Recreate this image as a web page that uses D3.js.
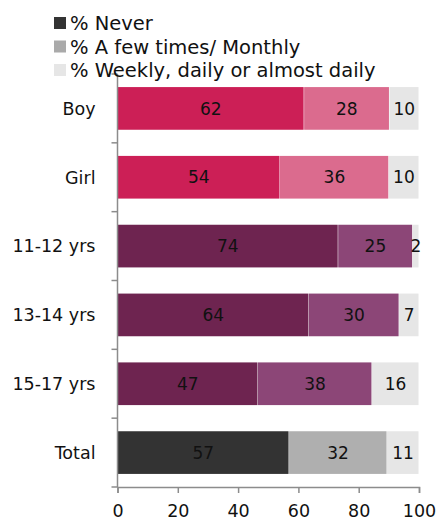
<!DOCTYPE html>
<style>
body { margin: 0; background: #fff; }
svg { font-family: "DejaVu Sans", sans-serif; }
</style>
<script src="https://d3js.org/d3.v7.min.js"></script>
<svg width="438" height="523"></svg>
<script>
var categories = ["Boy", "Girl", "11-12 yrs", "13-14 yrs", "15-17 yrs", "Total"];
var series = ["% Never", "% A few times/ Monthly", "% Weekly, daily or almost daily"];

// bar lengths and the printed labels
var never   = [61.9, 53.9, 73.2, 63.5, 46.6, 56.9];
var monthly = [28.3, 36.1, 24.7, 29.9, 37.8, 32.5];
var weekly  = [9.8, 10.0, 2.1, 6.6, 15.6, 10.6];
var neverLabels   = [62, 54, 74, 64, 47, 57];
var monthlyLabels = [28, 36, 25, 30, 38, 32];
var weeklyLabels  = [10, 10, 2, 7, 16, 11];
var xTicks = [0, 20, 40, 60, 80, 100];

var palette = {
  "Boy":       ["#cc1f56", "#db6b8e", "#e6e6e6"],
  "Girl":      ["#cc1f56", "#db6b8e", "#e6e6e6"],
  "11-12 yrs": ["#6e2450", "#8c4677", "#e6e6e6"],
  "13-14 yrs": ["#6e2450", "#8c4677", "#e6e6e6"],
  "15-17 yrs": ["#6e2450", "#8c4677", "#e6e6e6"],
  "Total":     ["#333333", "#afafaf", "#e6e6e6"]
};
var legendColors = ["#333333", "#aaaaaa", "#e6e6e6"];

var svg = d3.select("svg"),
    margin = {top: 74, right: 19, bottom: 36, left: 117.5},
    width = +svg.attr("width") - margin.left - margin.right,
    height = +svg.attr("height") - margin.top - margin.bottom;

var x = d3.scaleLinear().domain([0, 100]).range([0, width]);
var y = d3.scaleBand().domain(categories).range([0, height]).paddingInner(0.38).paddingOuter(0.19);

var rows = categories.map(function(c, i) {
  return {cat: c, values: [never[i], monthly[i], weekly[i]],
          labels: [neverLabels[i], monthlyLabels[i], weeklyLabels[i]]};
});

var g = svg.append("g").attr("transform", "translate(" + margin.left + "," + margin.top + ")");

var row = g.selectAll(".row")
  .data(rows)
  .enter().append("g")
    .attr("transform", function(d) { return "translate(0," + y(d.cat) + ")"; });

var seg = row.selectAll(".seg")
  .data(function(d) {
    var acc = 0;
    return d.values.map(function(v, k) {
      var s = {x0: acc, x1: acc + v, label: d.labels[k], color: palette[d.cat][k]};
      acc += v;
      return s;
    });
  })
  .enter().append("g");

seg.append("rect")
    .attr("x", function(d) { return x(d.x0); })
    .attr("width", function(d) { return x(d.x1) - x(d.x0) - 0.5; })
    .attr("height", y.bandwidth())
    .attr("fill", function(d) { return d.color; });

seg.append("text")
    .attr("x", function(d) { return (x(d.x0) + x(d.x1)) / 2; })
    .attr("y", y.bandwidth() / 2)
    .attr("dy", "0.36em")
    .attr("text-anchor", "middle")
    .style("font-size", "17px")
    .attr("fill", "#111")
    .text(function(d) { return d.label; });

// category axis
var axisColor = "#8c8c8c";
g.append("line")
    .attr("x1", 0).attr("x2", 0).attr("y1", 0).attr("y2", height)
    .attr("stroke", axisColor).attr("stroke-width", 1.5);
g.selectAll(".ytick")
  .data(d3.range(categories.length + 1))
  .enter().append("line")
    .attr("x1", -6).attr("x2", 0)
    .attr("y1", function(i) { return i * y.step(); })
    .attr("y2", function(i) { return i * y.step(); })
    .attr("stroke", axisColor).attr("stroke-width", 1.5);
g.selectAll(".ylabel")
  .data(categories)
  .enter().append("text")
    .attr("x", -22)
    .attr("y", function(d) { return y(d) + y.bandwidth() / 2; })
    .attr("dy", "0.36em")
    .attr("text-anchor", "end")
    .style("font-size", "17.5px")
    .attr("fill", "#111")
    .text(function(d) { return d; });

// value axis
var xAxis = g.append("g")
    .attr("transform", "translate(0," + height + ")")
    .call(d3.axisBottom(x).tickValues(xTicks).tickSize(6).tickPadding(12));
xAxis.select(".domain").attr("stroke", axisColor).attr("stroke-width", 1.5);
xAxis.selectAll(".tick line").attr("stroke", axisColor).attr("stroke-width", 1.5);
xAxis.selectAll(".tick text")
    .style("font-size", "17.5px")
    .style("font-family", "\"DejaVu Sans\", sans-serif")
    .attr("fill", "#111");

// legend
var legend = svg.append("g").attr("transform", "translate(54,17)");
var item = legend.selectAll(".item")
  .data(series)
  .enter().append("g")
    .attr("transform", function(d, i) { return "translate(0," + i * 23.5 + ")"; });
item.append("rect")
    .attr("width", 12).attr("height", 12)
    .attr("fill", function(d, i) { return legendColors[i]; });
item.append("text")
    .attr("x", 16).attr("y", 6)
    .attr("dy", "0.36em")
    .style("font-size", "19.5px")
    .attr("fill", "#111")
    .text(function(d) { return d; });
</script>
